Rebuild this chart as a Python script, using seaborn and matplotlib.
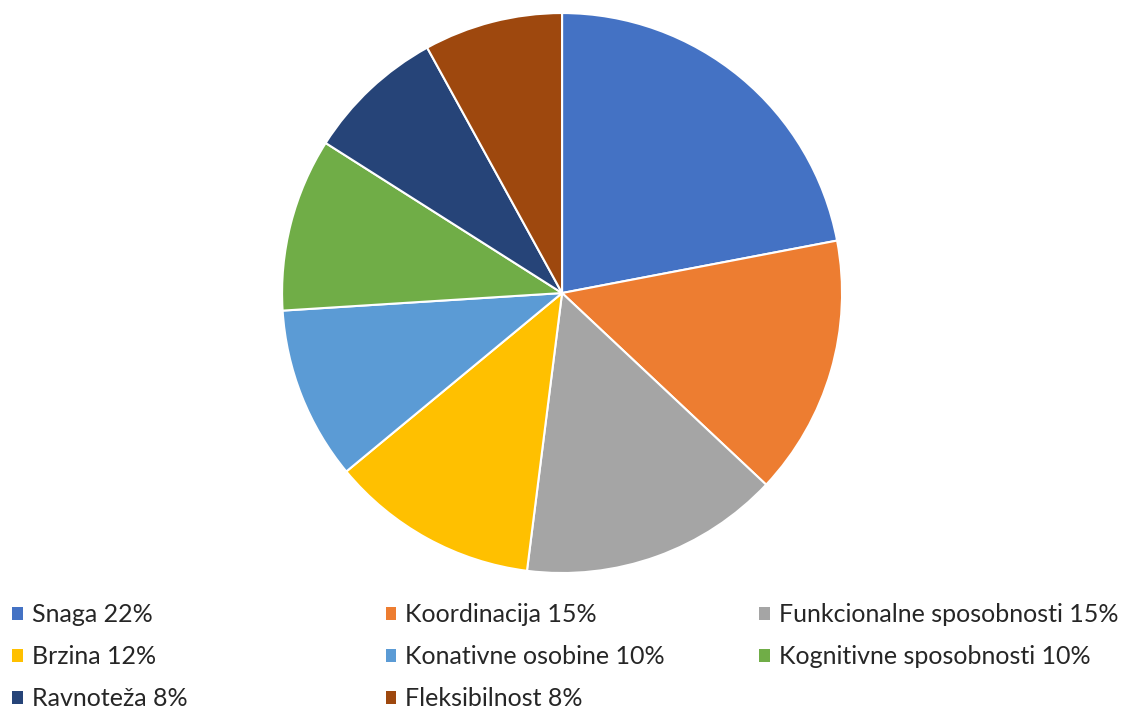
import matplotlib
matplotlib.use("Agg")
import matplotlib.pyplot as plt
import seaborn as sns
from matplotlib.patches import Patch

sns.set_style("white")
plt.rcParams["font.family"] = ["Lato", "DejaVu Sans"]

categories = ["Snaga", "Koordinacija", "Funkcionalne sposobnosti", "Brzina",
              "Konativne osobine", "Kognitivne sposobnosti", "Ravnoteža", "Fleksibilnost"]
values = [22, 15, 15, 12, 10, 10, 8, 8]
colors = ["#4472C4", "#ED7D31", "#A5A5A5", "#FFC000",
          "#5B9BD5", "#70AD47", "#264478", "#9E480E"]

fig = plt.figure(figsize=(11.25, 7.09), dpi=100)
ax = fig.add_axes([0.2507, 0.1918, 0.4978, 0.7898])
wedges, _ = ax.pie(values, colors=colors, startangle=90, counterclock=False,
                   wedgeprops=dict(edgecolor="white", linewidth=1.5))
ax.set_xlim(-1, 1)
ax.set_ylim(-1, 1)
ax.set_aspect("equal")
ax.axis("off")

labels = [f"{c} {v}%" for c, v in zip(categories, values)]
handles = [Patch(facecolor=col, edgecolor="none") for col in colors]

# Excel-style legend: rows filled left to right, fixed column positions
col_x = [0.002, 0.334, 0.666]
for j in range(3):
    idx = list(range(j, len(labels), 3))
    fig.legend([handles[i] for i in idx], [labels[i] for i in idx],
               loc="upper left", bbox_to_anchor=(col_x[j], 0.163),
               frameon=False, fontsize=18, handlelength=0.42, handleheight=0.42,
               handletextpad=0.36, labelspacing=0.76, borderaxespad=0,
               labelcolor="#262626")

fig.savefig("out.png", dpi=100)
